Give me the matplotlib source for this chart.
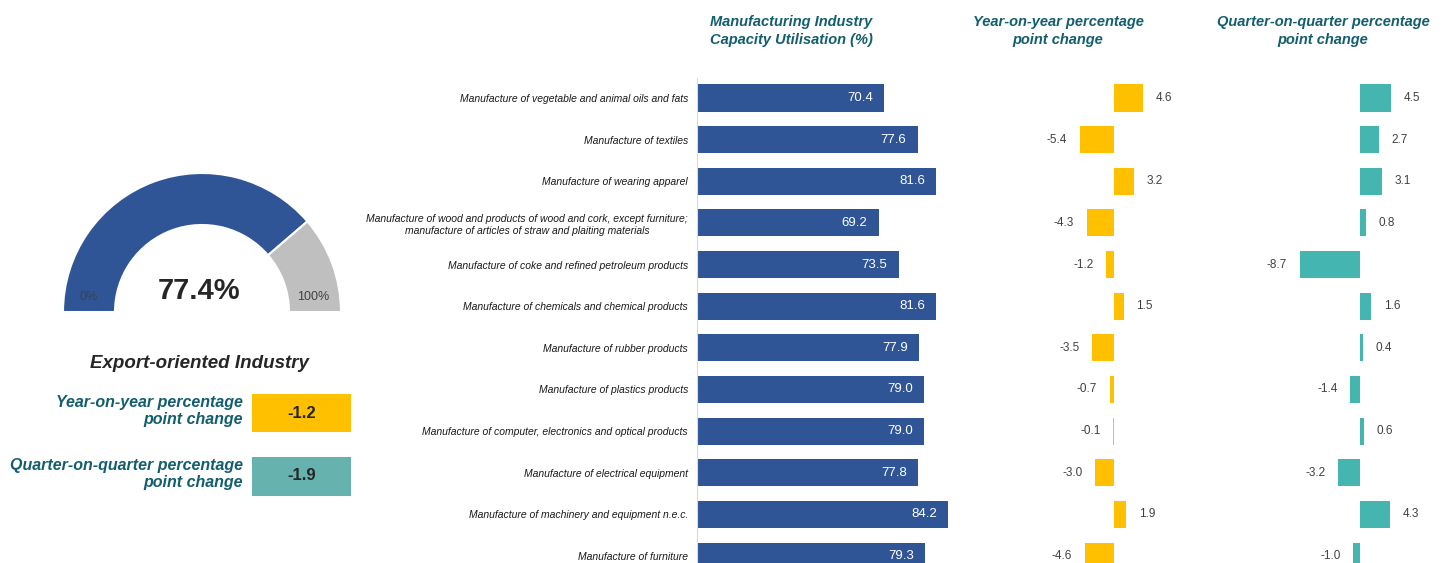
import matplotlib.pyplot as plt
from matplotlib.patches import Wedge, Rectangle

# Dati: utilizzo della capacità produttiva per settore manifatturiero
categories = [
    "Manufacture of vegetable and animal oils and fats",
    "Manufacture of textiles",
    "Manufacture of wearing apparel",
    "Manufacture of wood and products of wood and cork, except furniture;\n"
    "manufacture of articles of straw and plaiting materials",
    "Manufacture of coke and refined petroleum products",
    "Manufacture of chemicals and chemical products",
    "Manufacture of rubber products",
    "Manufacture of plastics products",
    "Manufacture of computer, electronics and optical products",
    "Manufacture of electrical equipment",
    "Manufacture of machinery and equipment n.e.c.",
    "Manufacture of furniture",
]
utilisation = [70.4, 77.6, 81.6, 69.2, 73.5, 81.6, 77.9, 79.0, 79.0, 77.8, 84.2, 79.3]
yoy_change = [4.6, -5.4, 3.2, -4.3, -1.2, 1.5, -3.5, -0.7, -0.1, -3.0, 1.9, -4.6]
qoq_change = [4.5, 2.7, 3.1, 0.8, -8.7, 1.6, 0.4, -1.4, 0.6, -3.2, 4.3, -1.0]

overall_rate = 77.4
overall_yoy = -1.2
overall_qoq = -1.9

# Colori
BLUE = '#2F5597'
YELLOW = '#FFC000'
TEAL = '#45B5B0'
TEAL_BOX = '#66B2AE'
GREY = '#BFBFBF'
TITLE = '#135E6E'

plt.rcParams['font.family'] = ['Liberation Sans', 'DejaVu Sans']

W, H = 1443, 563
fig = plt.figure(figsize=(W / 100, H / 100), dpi=100)


def px_axes(x0, x1, y_top, y_bottom):
    return fig.add_axes([x0 / W, 1 - y_bottom / H, (x1 - x0) / W, (y_bottom - y_top) / H])


# mappatura righe (pixel) -> indice
row_px0, row_step = 98, 41.64
top_px, bottom_px = 78, H
ylims = ((bottom_px - row_px0) / row_step, (top_px - row_px0) / row_step)
idx = list(range(len(categories)))
bar_h = 0.65

# --- Pannello sinistro: indicatore e riquadri ---
over = fig.add_axes([0, 0, 1, 1])
over.set_xlim(0, W)
over.set_ylim(0, H)
over.axis('off')

cx, cy = 202, H - 312
split = 180 - overall_rate * 1.8
over.add_patch(Wedge((cx, cy), 139, split, 180, width=52, facecolor=BLUE,
                     edgecolor='white', linewidth=1.5))
over.add_patch(Wedge((cx, cy), 139, 0, split, width=52, facecolor=GREY,
                     edgecolor='white', linewidth=1.5))
over.text(199, H - 291, f"{overall_rate:.1f}%", ha='center', va='center',
          fontsize=21, fontweight='bold', color='#262626')
over.text(89, H - 297, "0%", ha='center', va='center', fontsize=9, color='#404040')
over.text(313, H - 297, "100%", ha='center', va='center', fontsize=9, color='#404040')

over.text(199, H - 363, "Export-oriented Industry", ha='center', va='center',
          fontsize=13.5, fontweight='bold', fontstyle='italic', color='#262626')

over.text(243, H - 411, "Year-on-year percentage\npoint change", ha='right', va='center',
          fontsize=11.5, fontweight='bold', fontstyle='italic', color=TITLE)
over.add_patch(Rectangle((252, H - 432), 99, 38, facecolor=YELLOW, edgecolor='none'))
over.text(301.5, H - 413, f"{overall_yoy:.1f}", ha='center', va='center',
          fontsize=12, fontweight='bold', color='#262626')

over.text(243, H - 474, "Quarter-on-quarter percentage\npoint change", ha='right', va='center',
          fontsize=11.5, fontweight='bold', fontstyle='italic', color=TITLE)
over.add_patch(Rectangle((252, H - 496), 99, 39, facecolor=TEAL_BOX, edgecolor='none'))
over.text(301.5, H - 476, f"{overall_qoq:.1f}", ha='center', va='center',
          fontsize=12, fontweight='bold', color='#262626')

# --- Titoli colonne ---
title_kw = dict(ha='center', va='center', fontsize=10.5, fontweight='bold',
                fontstyle='italic', color=TITLE, linespacing=1.45)
fig.text(791 / W, 1 - 31 / H, "Manufacturing Industry\nCapacity Utilisation (%)", **title_kw)
fig.text(1058 / W, 1 - 31 / H, "Year-on-year percentage\npoint change", **title_kw)
fig.text(1323 / W, 1 - 31 / H, "Quarter-on-quarter percentage\npoint change", **title_kw)

# --- Barre utilizzo ---
ax = px_axes(697, 975, top_px, bottom_px)
ax.barh(idx, utilisation, height=bar_h, color=BLUE)
ax.set_xlim(30, 90)
ax.set_ylim(*ylims)
ax.set_xticks([])
ax.set_yticks(idx)
ax.set_yticklabels(categories, fontsize=7.5, fontstyle='italic', color='#1A1A1A')
for lbl in ax.get_yticklabels():
    lbl.set_multialignment('center')
ax.tick_params(axis='y', length=0, pad=6.5)
for s in ['top', 'right', 'bottom']:
    ax.spines[s].set_visible(False)
ax.spines['left'].set_color('#D9D9D9')
for i, v in zip(idx, utilisation):
    ax.annotate(f"{v:.1f}", (v, i), xytext=(-8, 0), textcoords='offset points',
                ha='right', va='center', fontsize=9.5, color='white')


def change_panel(x0, x1, zero_px, scale, values, color):
    a = px_axes(x0, x1, top_px, bottom_px)
    a.barh(idx, values, height=bar_h, color=color)
    a.set_xlim((x0 - zero_px) / scale, (x1 - zero_px) / scale)
    a.set_ylim(*ylims)
    a.axis('off')
    for i, v in zip(idx, values):
        off = 9 if v >= 0 else -9
        a.annotate(f"{v:.1f}", (v, i), xytext=(off, 0), textcoords='offset points',
                   ha='left' if v >= 0 else 'right', va='center', fontsize=8.5, color='#404040')
    return a


change_panel(1000, 1230, 1114, 6.35, yoy_change, YELLOW)
change_panel(1250, 1443, 1360, 6.95, qoq_change, TEAL)

fig.savefig('out.png', dpi=100)
